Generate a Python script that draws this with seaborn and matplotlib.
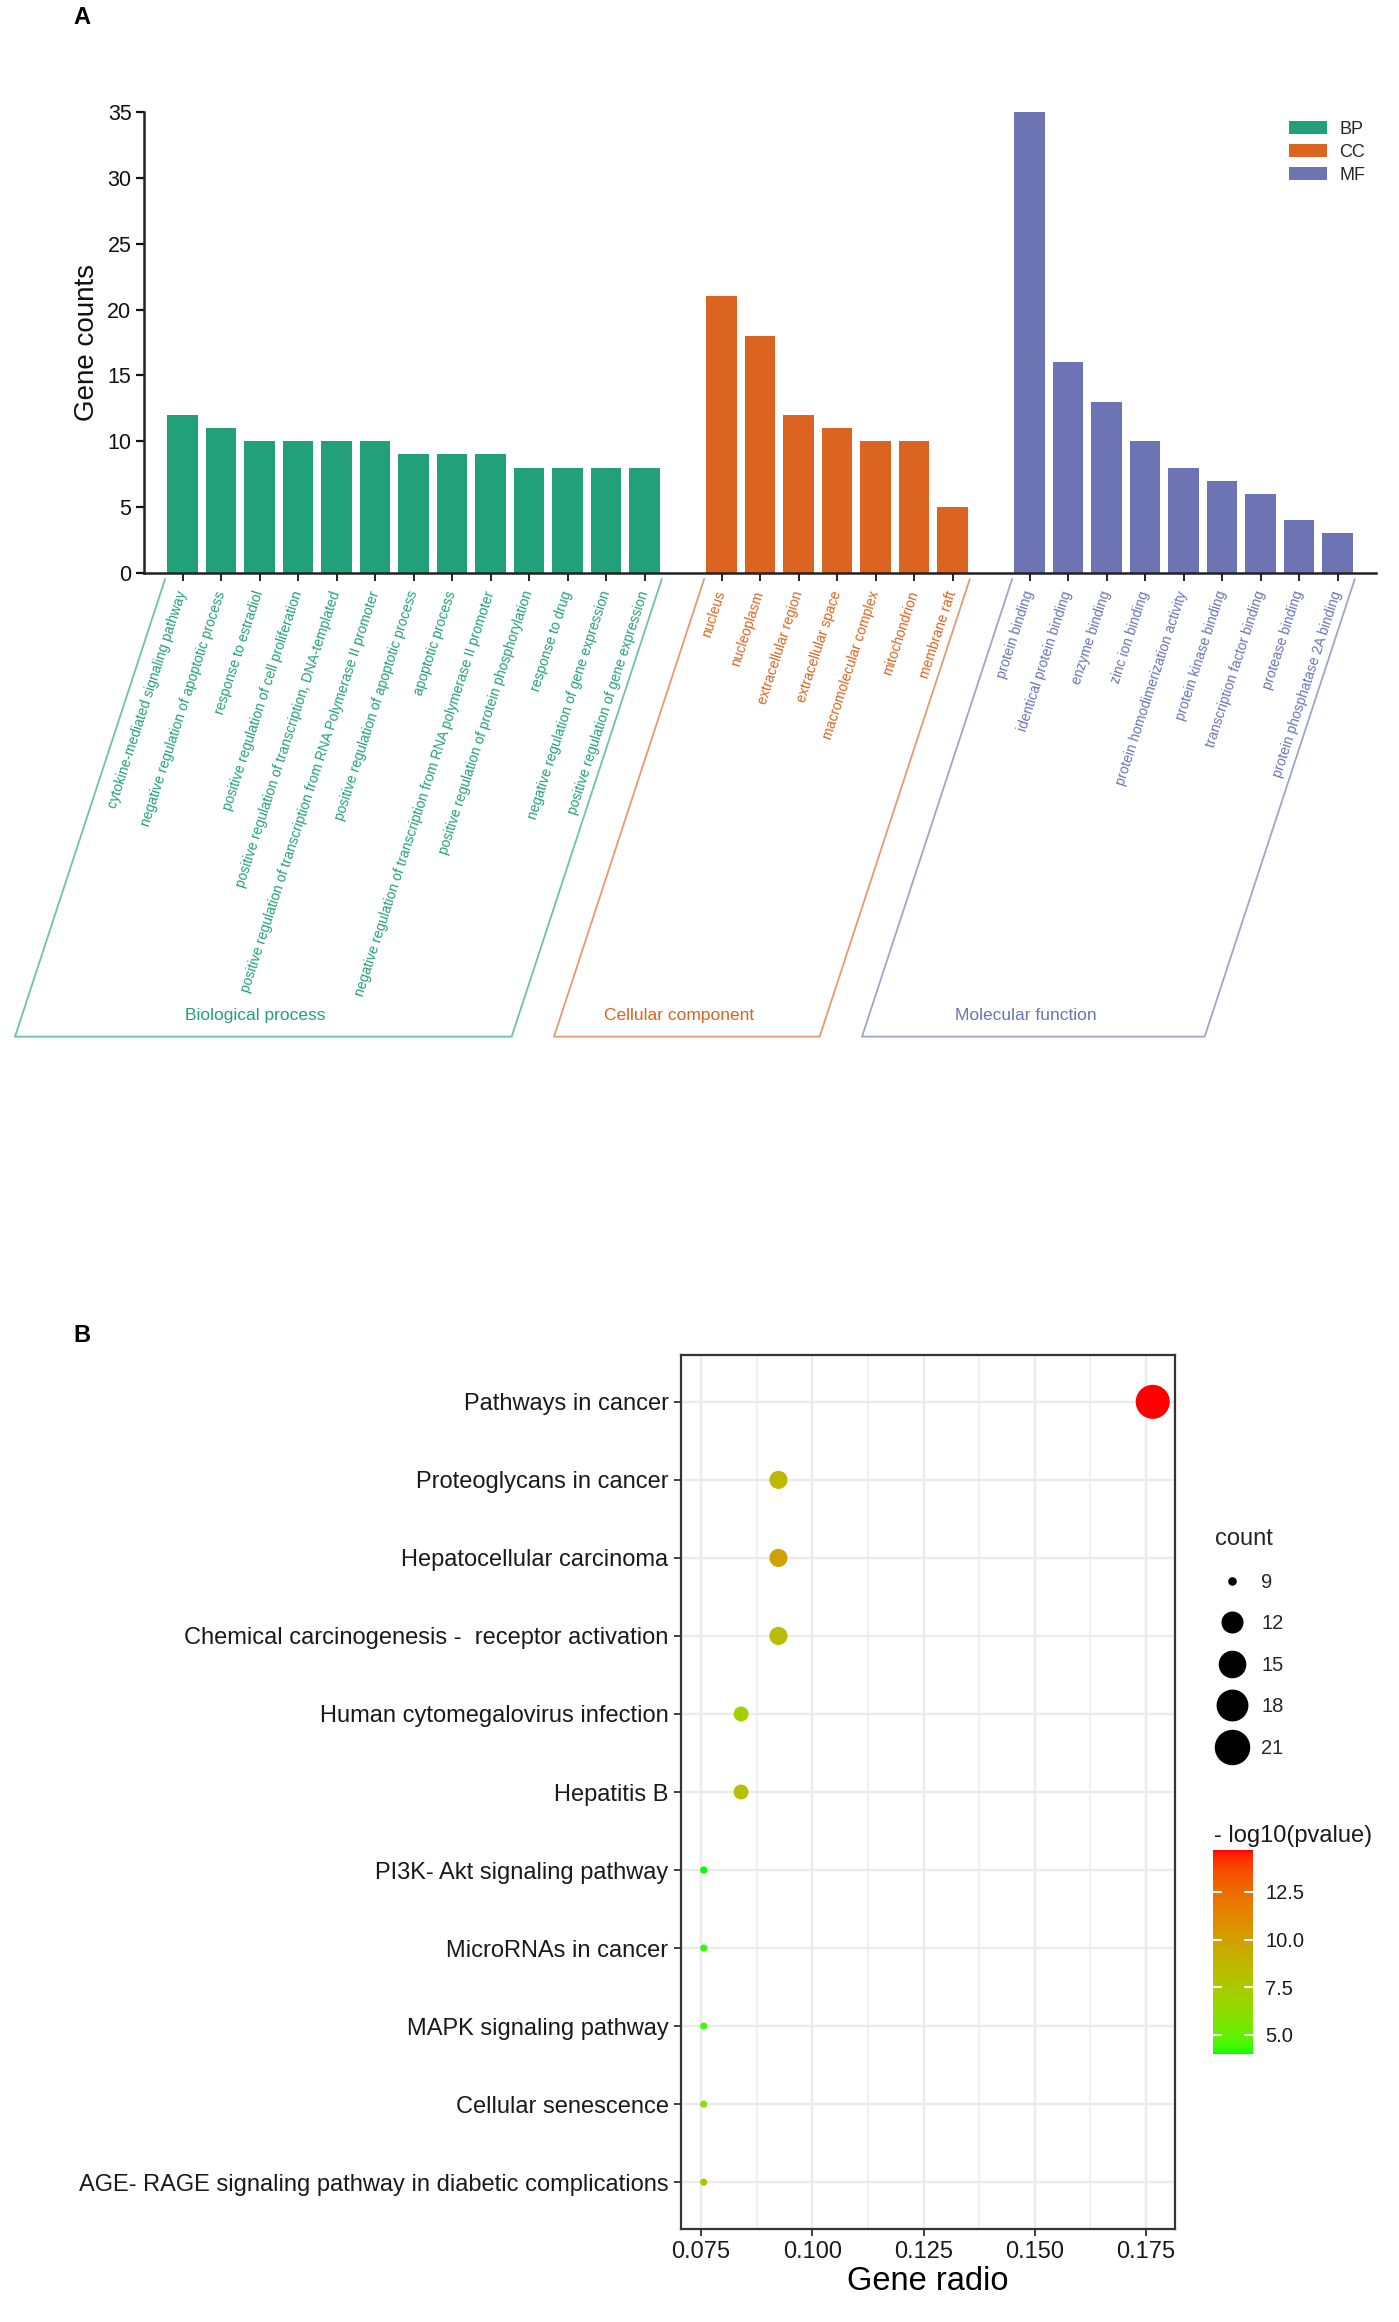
import numpy as np
import pandas as pd
import matplotlib
matplotlib.use("Agg")
import matplotlib.pyplot as plt
import seaborn as sns
from matplotlib.colors import ListedColormap, Normalize
from matplotlib.lines import Line2D
from matplotlib.cm import ScalarMappable

# ---------------- data: panel A (GO enrichment) ----------------
bp_terms = [
    "cytokine-mediated signaling pathway",
    "negative regulation of apoptotic process",
    "response to estradiol",
    "positive regulation of cell proliferation",
    "positive regulation of transcription, DNA-templated",
    "positive regulation of transcription from RNA Polymerase II promoter",
    "positive regulation of apoptotic process",
    "apoptotic process",
    "negative regulation of transcription from RNA polymerase II promoter",
    "positive regulation of protein phosphorylation",
    "response to drug",
    "negative regulation of gene expression",
    "positive regulation of gene expression",
]
bp_counts = [12, 11, 10, 10, 10, 10, 9, 9, 9, 8, 8, 8, 8]

cc_terms = [
    "nucleus",
    "nucleoplasm",
    "extracellular region",
    "extracellular space",
    "macromolecular complex",
    "mitochondrion",
    "membrane raft",
]
cc_counts = [21, 18, 12, 11, 10, 10, 5]

mf_terms = [
    "protein binding",
    "identical protein binding",
    "enzyme binding",
    "zinc ion binding",
    "protein homodimerization activity",
    "protein kinase binding",
    "transcription factor binding",
    "protease binding",
    "protein phosphatase 2A binding",
]
mf_counts = [35, 16, 13, 10, 8, 7, 6, 4, 3]

group_codes = ["BP", "CC", "MF"]
group_names = ["Biological process", "Cellular component", "Molecular function"]
group_colors = ["#22A07A", "#DA6420", "#6C74B4"]

# ---------------- data: panel B (KEGG bubble) ----------------
pathways = [
    "Pathways in cancer",
    "Proteoglycans in cancer",
    "Hepatocellular carcinoma",
    "Chemical carcinogenesis -  receptor activation",
    "Human cytomegalovirus infection",
    "Hepatitis B",
    "PI3K- Akt signaling pathway",
    "MicroRNAs in cancer",
    "MAPK signaling pathway",
    "Cellular senescence",
    "AGE- RAGE signaling pathway in diabetic complications",
]
gene_ratio = [0.1765, 0.0924, 0.0924, 0.0924, 0.0840, 0.0840,
              0.0756, 0.0756, 0.0756, 0.0756, 0.0756]
path_counts = [21, 11, 11, 11, 10, 10, 9, 9, 9, 9, 9]
neg_log10_p = [14.7, 8.6, 9.9, 8.3, 7.0, 8.2, 4.0, 4.3, 4.5, 6.3, 7.9]
count_legend_values = [9, 12, 15, 18, 21]
colorbar_ticks = [5.0, 7.5, 10.0, 12.5]

# ---------------- style ----------------
sns.set_theme(style="white")
plt.rcParams["font.family"] = ["Liberation Sans", "DejaVu Sans"]
plt.rcParams["axes.unicode_minus"] = False

W, H = 1399, 2322
fig = plt.figure(figsize=(W / 100, H / 100), dpi=100)


def fx(px):
    return px / W


def fy(py):
    return 1 - py / H


# ===================== Panel A =====================
axA = fig.add_axes([fx(144), fy(573), fx(1376) - fx(144), fy(112) - fy(573)])

all_terms = bp_terms + cc_terms + mf_terms
all_counts = bp_counts + cc_counts + mf_counts
all_groups = (["BP"] * len(bp_terms) + ["CC"] * len(cc_terms)
              + ["MF"] * len(mf_terms))
df_a = pd.DataFrame({"term": all_terms, "count": all_counts, "group": all_groups})
order = bp_terms + [" "] + cc_terms + ["  "] + mf_terms

sns.barplot(data=df_a, x="term", y="count", hue="group", order=order,
            hue_order=group_codes, palette=dict(zip(group_codes, group_colors)),
            dodge=False, width=0.78, saturation=1, linewidth=0, ax=axA)

axA.set_xlim(-1, len(order))
axA.set_ylim(0, 35)
axA.set_yticks(range(0, 36, 5))
axA.tick_params(axis="y", direction="out", length=6, width=1.6, labelsize=15.5,
                colors="#111111", pad=3, left=True)
for s in ["top", "right"]:
    axA.spines[s].set_visible(False)
for s in ["left", "bottom"]:
    axA.spines[s].set_linewidth(1.8)
    axA.spines[s].set_color("#222222")

positions = [order.index(t) for t in all_terms]
axA.set_xticks(positions)
axA.set_xticklabels(all_terms, rotation=72, ha="right", va="center",
                    rotation_mode="anchor", fontsize=10)
axA.tick_params(axis="x", direction="out", length=6, width=1.4, pad=7,
                bottom=True, colors="#222222")
col_of = dict(zip(group_codes, group_colors))
for lab, g in zip(axA.get_xticklabels(), all_groups):
    lab.set_color(col_of[g])

axA.set_xlabel("")
axA.set_ylabel("Gene counts", fontsize=20, color="#111111")
axA.yaxis.set_label_coords(-0.036, 0.5)

leg = axA.legend(loc="upper left", bbox_to_anchor=(fx(1289), fy(121)),
                 bbox_transform=fig.transFigure, frameon=False, fontsize=13,
                 handlelength=2.1, handleheight=0.7, labelspacing=0.32,
                 handletextpad=0.7, borderpad=0, borderaxespad=0)

# group brackets (parallelograms) under the tick labels
slant = 3.9
y_top, y_bot = -0.45, -35.2
for terms, name, col in zip([bp_terms, cc_terms, mf_terms], group_names, group_colors):
    first = order.index(terms[0]) - 0.45
    last = order.index(terms[-1]) + 0.45
    xs = [first, first - slant, last - slant, last]
    ys = [y_top, y_bot, y_bot, y_top]
    axA.plot(xs, ys, color=col, lw=1.3, alpha=0.65, clip_on=False,
             solid_joinstyle="miter")
    axA.text((first + last) / 2 - slant - 0.2, -33.6, name, color=col,
             ha="center", va="center", fontsize=12.5, clip_on=False)

fig.text(fx(82), fy(18), "A", fontsize=17, fontweight="bold", ha="center",
         va="center", color="black")

# ===================== Panel B =====================
def srgb_to_lab(rgb):
    rgb = np.asarray(rgb, float)
    lin = np.where(rgb <= 0.04045, rgb / 12.92, ((rgb + 0.055) / 1.055) ** 2.4)
    M = np.array([[0.4124564, 0.3575761, 0.1804375],
                  [0.2126729, 0.7151522, 0.0721750],
                  [0.0193339, 0.1191920, 0.9503041]])
    xyz = M @ lin / np.array([0.95047, 1.0, 1.08883])
    d = 6 / 29
    f = np.where(xyz > d ** 3, np.cbrt(xyz), xyz / (3 * d * d) + 4 / 29)
    return np.array([116 * f[1] - 16, 500 * (f[0] - f[1]), 200 * (f[1] - f[2])])


def lab_to_srgb(lab):
    L, a, b = lab
    fy_ = (L + 16) / 116
    f = np.array([fy_ + a / 500, fy_, fy_ - b / 200])
    d = 6 / 29
    xyz = np.where(f > d, f ** 3, 3 * d * d * (f - 4 / 29)) * np.array([0.95047, 1.0, 1.08883])
    Minv = np.linalg.inv(np.array([[0.4124564, 0.3575761, 0.1804375],
                                   [0.2126729, 0.7151522, 0.0721750],
                                   [0.0193339, 0.1191920, 0.9503041]]))
    lin = np.clip(Minv @ xyz, 0, 1)
    rgb = np.where(lin <= 0.0031308, 12.92 * lin, 1.055 * lin ** (1 / 2.4) - 0.055)
    return np.clip(rgb, 0, 1)


lab_lo = srgb_to_lab([0, 1, 0])
lab_hi = srgb_to_lab([1, 0, 0])
ramp = [lab_to_srgb(lab_lo + t * (lab_hi - lab_lo)) for t in np.linspace(0, 1, 256)]
cmap = ListedColormap(ramp)
norm = Normalize(min(neg_log10_p), max(neg_log10_p))

ax_left, ax_right, ax_top, ax_bot = 681, 1175, 1355, 2229
axB = fig.add_axes([fx(ax_left), fy(ax_bot), fx(ax_right) - fx(ax_left), fy(ax_top) - fy(ax_bot)])

PX_PER_PT = 1.89


def diam_px(c):
    t = (c - 9) / 12
    return PX_PER_PT * ((1 + 5 * np.sqrt(t)) * 2.845 + 0.945)


def area_pt2(c):
    return (diam_px(c) * 0.72) ** 2


df_b = pd.DataFrame({"term": pathways, "ratio": gene_ratio,
                     "count": path_counts, "logp": neg_log10_p})
size_map = {c: area_pt2(c) for c in sorted(set(path_counts))}
sns.scatterplot(data=df_b, x="ratio", y="term", hue="logp", size="count",
                palette=cmap, hue_norm=norm, sizes=size_map, legend=False,
                linewidth=0, ax=axB, zorder=3)

axB.set_xlim(0.0705, 0.1815)
axB.set_ylim(len(pathways) - 0.4, -0.6)
axB.set_xticks([0.075, 0.1, 0.125, 0.15, 0.175])
axB.set_xticklabels(["0.075", "0.100", "0.125", "0.150", "0.175"])
axB.set_xticks([0.0875, 0.1125, 0.1375, 0.1625], minor=True)
axB.grid(which="major", color="#EBEBEB", lw=1.7)
axB.grid(which="minor", axis="x", color="#EFEFEF", lw=1.3)
axB.set_axisbelow(True)
axB.tick_params(axis="both", which="major", direction="out", length=5, width=1.3,
                color="#333333", labelsize=17, labelcolor="#1A1A1A", pad=4,
                left=True, bottom=True)
axB.tick_params(axis="x", which="minor", length=0)
for s in axB.spines.values():
    s.set_visible(True)
    s.set_color("#333333")
    s.set_linewidth(1.6)
axB.set_ylabel("")
axB.set_xlabel("Gene radio", fontsize=23.5, color="black", labelpad=2)

# size legend
handles = [Line2D([], [], ls="", marker="o", color="black",
                  markersize=diam_px(c) * 0.72) for c in count_legend_values]
lgB = axB.legend(handles, [str(c) for c in count_legend_values], title="count",
                 loc="upper left", bbox_to_anchor=(fx(1215), fy(1528)),
                 bbox_transform=fig.transFigure, frameon=False, fontsize=14.5,
                 title_fontsize=17, handlelength=1.7, handletextpad=0.6,
                 labelspacing=1.12, borderpad=0, borderaxespad=0, alignment="left")

# colour bar
cax = fig.add_axes([fx(1213), fy(2054), fx(1253) - fx(1213), fy(1850) - fy(2054)])
cb = fig.colorbar(ScalarMappable(norm=norm, cmap=cmap), cax=cax)
cb.outline.set_visible(False)
cb.set_ticks(colorbar_ticks)
cb.set_ticklabels([f"{t:.1f}" for t in colorbar_ticks])
cax.tick_params(length=0, labelsize=14.5, pad=9, labelcolor="#1A1A1A")
for t in colorbar_ticks:
    cax.plot([0, 0.2], [t, t], color="white", lw=1.5)
    cax.plot([0.8, 1], [t, t], color="white", lw=1.5)
fig.text(fx(1214), fy(1836), "- log10(pvalue)", fontsize=17, ha="left",
         va="center", color="#1A1A1A")

fig.text(fx(82), fy(1336), "B", fontsize=17, fontweight="bold", ha="center",
         va="center", color="black")

fig.savefig("out.png", dpi=100, facecolor="white")
